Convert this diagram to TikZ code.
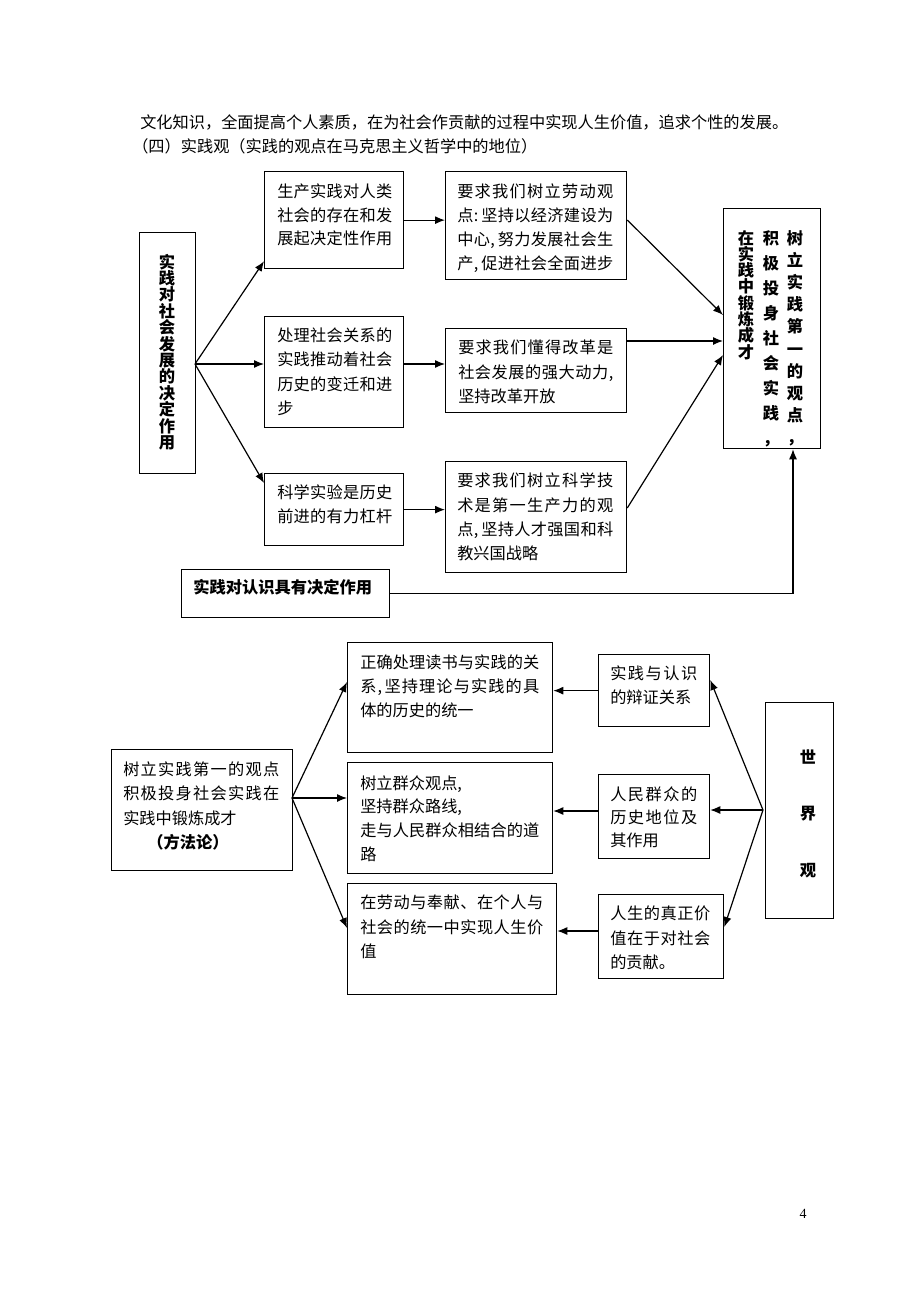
\documentclass[tikz,border=0pt]{standalone}
\usepackage{fontspec}
\setmainfont{Noto Sans CJK SC}
\newfontfamily\numfont{Liberation Serif}
\usetikzlibrary{arrows.meta,calc}
\newdimen\pxu \pxu=0.75pt
\def\distloop#1{#1\futurelet\distnext\distcheck}
\def\distcheck{\ifx\distnext\distend\expandafter\diststop\else\hfil\expandafter\distloop\fi}
\def\diststop#1{}
\def\distend{\distend}
\newcommand\dist[2]{\hbox to #1\pxu{\distloop#2\distend}}
\newcommand\fn{\fontsize{12.15}{14}\selectfont}
\newcommand\fb{\fontsize{12.2}{14}\selectfont\bfseries}
\newcommand\mybox[5]{\node[box, minimum width=#4*0.75pt, minimum height=#5*0.75pt] (#1) at (#2,#3) {};}
\newcommand\tline[4]{\node[tx] (#1) at (#2,#3+6) {#4};}
\begin{document}
\begin{tikzpicture}[x=0.75pt,y=-0.75pt,
  box/.style={draw, line width=0.95pt, inner sep=0pt, anchor=north west},
  tx/.style={inner sep=0pt, anchor=base west, font=\fn},
  txb/.style={inner sep=0pt, anchor=base west, font=\fb},
  vc/.style={inner sep=0pt, anchor=base, font=\fb},
  arr/.style={line width=0.9pt, -{Latex[length=7.5pt,width=6pt]}}]
\useasboundingbox (0,0) rectangle (920,1302);
\fill[white] (0,0) rectangle (920,1302);

% header text
\tline{hdr1}{140}{123}{文化知识，全面提高个人素质，在为社会作贡献的过程中实现人生价值，追求个性的发展。}
\tline{hdr2}{132}{147}{（四）实践观（实践的观点在马克思主义哲学中的地位）}

% ---------- top section boxes ----------
\mybox{lb}{139}{232}{56}{241}
\mybox{a1}{264}{171}{139}{97}
\mybox{b1}{445}{171}{181}{108}
\mybox{a2}{264}{316}{139}{111}
\mybox{b2}{445}{328}{181}{84}
\mybox{a3}{264}{473}{139}{72}
\mybox{b3}{445}{461}{181}{111}
\mybox{rb}{723}{208}{97}{240}
\mybox{cb}{181}{569}{208}{48}

% left vertical text
\foreach \c [count=\i from 0] in {实,践,对,社,会,发,展,的,决,定,作,用}
  \node[vc] (lbc\i) at (167, 262+\i*16.4+6) {\c};

% A1
\tline{a1t1}{277}{191}{\dist{115}{生产实践对人类}}
\tline{a1t2}{277}{215}{\dist{115}{社会的存在和发}}
\tline{a1t3}{277}{238}{\dist{115}{展起决定性作用}}
% B1
\tline{b1t1}{457}{191}{\dist{156}{要求我们树立劳动观}}
\tline{b1t2}{457}{215}{\dist{156}{点{:\kern2pt}坚持以经济建设为}}
\tline{b1t3}{457}{239}{\dist{156}{中心{,\kern2pt}努力发展社会生}}
\tline{b1t4}{457}{263}{\dist{156}{产{,\kern2pt}促进社会全面进步}}
% A2
\tline{a2t1}{277}{335}{\dist{115}{处理社会关系的}}
\tline{a2t2}{277}{359}{\dist{115}{实践推动着社会}}
\tline{a2t3}{277}{384}{\dist{115}{历史的变迁和进}}
\tline{a2t4}{277}{408}{步}
% B2
\tline{b2t1}{458}{347}{\dist{155}{要求我们懂得改革是}}
\tline{b2t2}{458}{372}{\dist{155}{社会发展的强大动力,}}
\tline{b2t3}{458}{396}{坚持改革开放}
% A3
\tline{a3t1}{277}{492}{\dist{115}{科学实验是历史}}
\tline{a3t2}{277}{516}{\dist{115}{前进的有力杠杆}}
% B3
\tline{b3t1}{457}{480}{\dist{156}{要求我们树立科学技}}
\tline{b3t2}{457}{505}{\dist{156}{术是第一生产力的观}}
\tline{b3t3}{457}{529}{\dist{156}{点{,\kern2pt}坚持人才强国和科}}
\tline{b3t4}{457}{553}{教兴国战略}
% bottom-left box
\node[txb] (cbt) at (193,587+6) {实践对认识具有决定作用};

% right vertical box text
\foreach \c [count=\i from 0] in {树,立,实,践,第,一,的,观,点,，}
  \node[vc] (rc1\i) at (795, 238+\i*22.2+6) {\c};
\foreach \c [count=\i from 0] in {积,极,投,身,社,会,实,践,，}
  \node[vc] (rc2\i) at (771, 238+\i*25.1+6) {\c};
\foreach \c [count=\i from 0] in {在,实,践,中,锻,炼,成,才}
  \node[vc] (rc3\i) at (746, 238+\i*16.3+6) {\c};

% top connectors
\coordinate (hubT) at (195,364);
\draw[arr] (hubT) -- ($(a1.south west)+(0,-8)$);
\draw[arr] (hubT) -- (a2.west |- hubT);
\draw[arr] (hubT) -- ($(a3.north west)+(0,10)$);
\draw[arr] (a1.east) -- (b1.west |- a1.east);
\draw[arr] (a2.east |- hubT) -- (b2.west |- hubT);
\draw[arr] (a3.east) -- (b3.west |- a3.east);
\draw[arr] ($(b1.north east)+(0,49)$) -- ($(rb.north west)+(0,107)$);
\draw[arr] ($(b2.north east)+(0,13)$) -- ($(rb.north west)+(0,133)$);
\draw[arr] ($(b3.north east)+(0,47)$) -- ($(rb.north west)+(0,147)$);
\draw[arr] (cb.east) -| ($(rb.south west)+(70,0)$);

% ---------- bottom section ----------
\mybox{lm}{111}{749}{181}{121}
\mybox{m1}{347}{642}{205}{110}
\mybox{m2}{347}{762}{205}{111}
\mybox{m3}{347}{883}{209}{111}
\mybox{r1}{598}{654}{111}{72}
\mybox{r2}{598}{774}{111}{84}
\mybox{r3}{598}{894}{125}{84}
\mybox{wb}{765}{702}{68}{216}

\tline{lmt1}{123}{769}{\dist{156}{树立实践第一的观点}}
\tline{lmt2}{123}{793}{\dist{156}{积极投身社会实践在}}
\tline{lmt3}{123}{818}{实践中锻炼成才}
\node[txb] (lmt4) at (147,842+6) {（方法论）};

\tline{m1t1}{360}{662}{\dist{179}{正确处理读书与实践的关}}
\tline{m1t2}{360}{686}{\dist{179}{系{,\kern1pt}坚持理论与实践的具}}
\tline{m1t3}{360}{710}{体的历史的统一}

\tline{m2t1}{360}{783}{树立群众观点,}
\tline{m2t2}{360}{806}{坚持群众路线,}
\tline{m2t3}{360}{830}{\dist{179}{走与人民群众相结合的道}}
\tline{m2t4}{360}{854}{路}

\tline{m3t1}{360}{902}{\dist{183}{在劳动与奉献、在个人与}}
\tline{m3t2}{360}{927}{\dist{183}{社会的统一中实现人生价}}
\tline{m3t3}{360}{951}{值}

\tline{r1t1}{610}{673}{\dist{87}{实践与认识}}
\tline{r1t2}{610}{697}{的辩证关系}

\tline{r2t1}{610}{794}{\dist{87}{人民群众的}}
\tline{r2t2}{610}{817}{\dist{87}{历史地位及}}
\tline{r2t3}{610}{840}{其作用}

\tline{r3t1}{610}{913}{\dist{100}{人生的真正价}}
\tline{r3t2}{610}{938}{\dist{100}{值在于对社会}}
\tline{r3t3}{610}{962}{的贡献。}

\node[vc] (w1) at (808,757+6) {世};
\node[vc] (w2) at (808,813+6) {界};
\node[vc] (w3) at (808,870+6) {观};

% bottom connectors
\coordinate (hubB) at (292,798);
\draw[arr] (hubB) -- ($(m1.north west)+(0,40)$);
\draw[arr] (hubB) -- (m2.west |- hubB);
\draw[arr] (hubB) -- ($(m3.north west)+(0,45)$);
\coordinate (hubW) at (763,810);
\draw[arr] (hubW) -- ($(r1.north east)+(0,26)$);
\draw[arr] (hubW) -- (r2.east |- hubW);
\draw[arr] (hubW) -- ($(r3.north east)+(0,33)$);
\draw[arr] (r1.west) -- (m1.east |- r1.west);
\draw[arr] ($(r2.north west)+(0,37)$) -- ($(m2.north east)+(0,49)$);
\draw[arr] ($(r3.north west)+(0,37)$) -- ($(m3.north east)+(0,48)$);

% page number
\node[inner sep=0pt, anchor=base, font=\numfont\fontsize{10.5}{12}\selectfont] (pg) at (803,1218) {4};
\end{tikzpicture}
\end{document}
